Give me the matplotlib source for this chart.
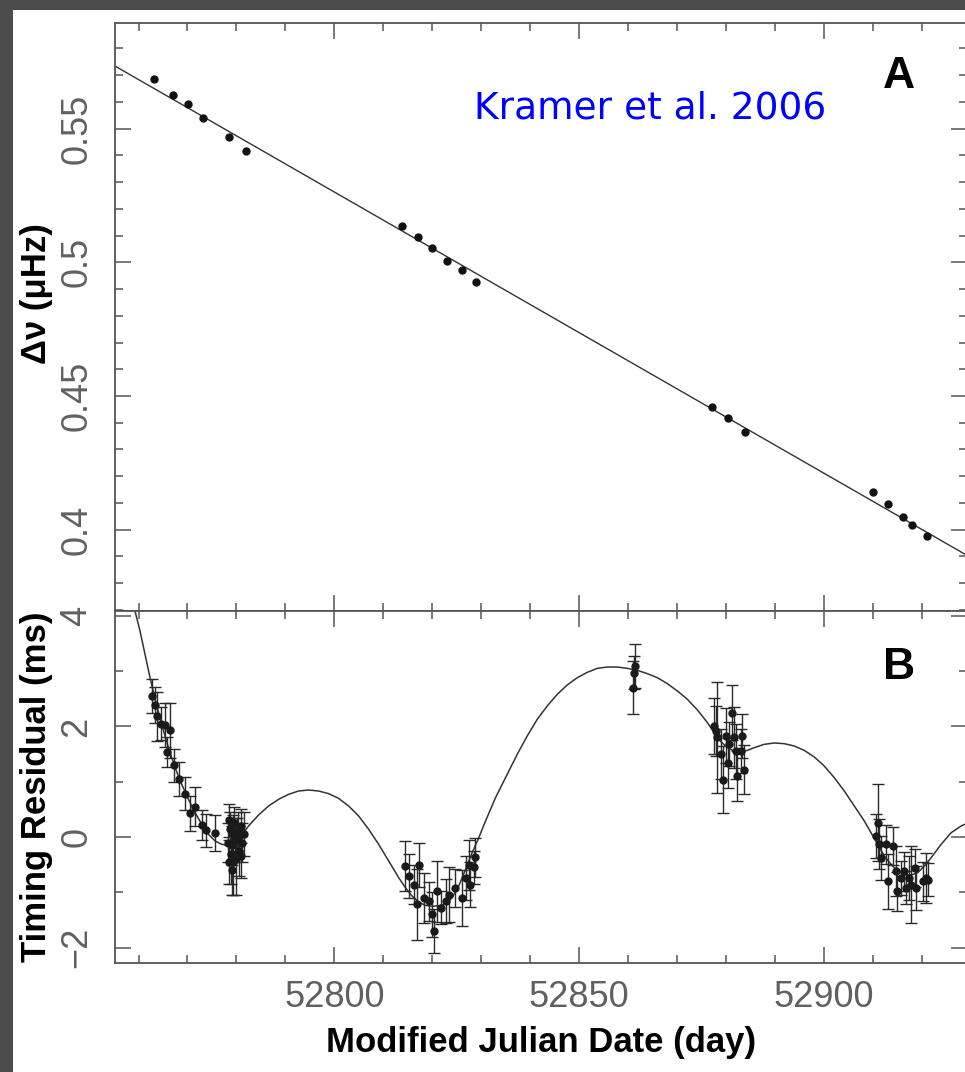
import matplotlib.pyplot as plt
from matplotlib.ticker import MultipleLocator, FuncFormatter
from matplotlib.patches import Rectangle

plt.rcParams['font.family'] = ['Liberation Sans', 'DejaVu Sans']

# --- panel A: frequency offset vs date ---
freq_day = [52763.1, 52767.0, 52770.1, 52773.1, 52778.5, 52782.0,
            52813.9, 52817.0, 52820.0, 52823.1, 52826.0, 52829.0,
            52877.1, 52880.4, 52883.8,
            52910.0, 52913.0, 52916.1, 52918.0, 52921.0]
freq_val = [0.5685, 0.5626, 0.5591, 0.5539, 0.5470, 0.5418,
            0.5136, 0.5095, 0.5054, 0.5005, 0.4971, 0.4926,
            0.4459, 0.4418, 0.4366,
            0.4141, 0.4097, 0.4049, 0.4018, 0.3977]
fit_day = [52755.2, 52929.2]
fit_val = [0.5734, 0.3904]

# --- panel B: timing residuals and model (model) ---
model_day = [52757.0, 52759.29, 52760.31, 52761.33, 52762.36, 52763.38, 52764.74,
             52766.11, 52767.47, 52768.83, 52770.20, 52771.56, 52772.92, 52774.29,
             52775.65, 52777.01, 52778.38, 52779.74, 52781.10, 52782.47, 52784.51,
             52786.56, 52788.60, 52790.65, 52792.69, 52794.74, 52796.78, 52798.83,
             52800.87, 52802.92, 52804.96, 52807.01, 52809.05, 52811.10, 52813.14,
             52814.51, 52815.87, 52817.23, 52818.59, 52819.96, 52821.32, 52822.69,
             52824.05, 52825.41, 52826.78, 52828.14, 52829.50, 52830.87, 52832.91,
             52835.29, 52837.34, 52839.38, 52841.43, 52843.47, 52845.52, 52847.56,
             52849.61, 52851.65, 52853.70, 52855.74, 52857.79, 52859.83, 52861.88,
             52863.92, 52865.97, 52868.01, 52870.06, 52872.10, 52874.15, 52876.19,
             52877.56, 52878.92, 52880.28, 52881.65, 52883.01, 52884.37, 52885.74,
             52887.78, 52889.83, 52891.87, 52893.92, 52895.96, 52898.01, 52900.05,
             52902.10, 52904.14, 52906.19, 52908.23, 52909.60, 52910.96, 52912.32,
             52913.69, 52915.05, 52916.41, 52917.78, 52919.14, 52920.50, 52921.87,
             52923.91, 52925.96, 52928.00, 52929.2]
model_val = [4.90, 4.087, 3.725, 3.303, 2.881, 2.490, 2.037,
             1.615, 1.254, 0.952, 0.681, 0.440, 0.229, 0.048,
             -0.072, -0.133, -0.145, -0.102, 0.036, 0.199, 0.398,
             0.561, 0.681, 0.772, 0.832, 0.850, 0.832, 0.784,
             0.699, 0.561, 0.380, 0.139, -0.133, -0.434, -0.735,
             -0.916, -1.067, -1.175, -1.236, -1.254, -1.242, -1.206,
             -1.097, -0.886, -0.585, -0.283, -0.012, 0.289, 0.711,
             1.133, 1.495, 1.826, 2.128, 2.369, 2.580, 2.749,
             2.881, 2.978, 3.050, 3.074, 3.074, 3.050, 3.014,
             2.954, 2.881, 2.773, 2.640, 2.490, 2.297, 2.068,
             1.887, 1.724, 1.615, 1.555, 1.543, 1.567, 1.615,
             1.676, 1.700, 1.688, 1.646, 1.567, 1.447, 1.284,
             1.073, 0.832, 0.561, 0.289, 0.078, -0.133, -0.344,
             -0.494, -0.615, -0.675, -0.687, -0.645, -0.524, -0.374,
             -0.133, 0.078, 0.199, 0.250]

res_day = [52762.8, 52763.4, 52763.7, 52764.5, 52765.4, 52765.8, 52766.4,
           52767.2, 52768.2, 52769.5, 52770.5, 52771.6, 52772.9, 52773.8, 52775.6,
           52778.2, 52778.4, 52778.5, 52778.6, 52778.8, 52779.0, 52779.1, 52779.2,
           52779.4, 52779.6, 52779.8, 52780.0, 52780.2, 52780.3, 52780.6, 52780.9,
           52781.0, 52781.2, 52781.5,
           52814.4, 52815.2, 52816.2, 52816.9, 52817.2, 52818.3, 52819.3,
           52820.0, 52820.3, 52821.0, 52821.7, 52822.7, 52823.4, 52824.7,
           52826.1, 52826.8, 52827.5, 52827.8, 52828.5, 52828.8,
           52860.9, 52861.1, 52861.3,
           52877.6, 52877.9, 52878.2, 52878.9, 52879.3, 52879.9, 52880.3,
           52880.6, 52881.3, 52881.6, 52882.0, 52882.3, 52883.0, 52883.3, 52883.7,
           52910.6, 52911.0, 52911.3, 52911.6, 52912.7, 52913.0, 52914.0,
           52914.7, 52915.0, 52915.7, 52916.4, 52916.7, 52917.4, 52917.8,
           52918.5, 52918.8, 52920.2, 52920.8, 52921.2]
res_val = [2.55, 2.39, 2.18, 2.05, 2.03, 1.54, 1.93,
           1.30, 1.05, 0.78, 0.43, 0.55, 0.22, 0.12, 0.07,
           -0.10, -0.45, 0.30, 0.15, -0.30, -0.60, -0.15, 0.05,
           -0.45, 0.25, -0.05, -0.40, 0.00, 0.10, -0.25, 0.20,
           -0.35, -0.10, 0.05,
           -0.52, -0.71, -0.86, -1.22, -0.50, -1.10, -1.16,
           -1.40, -1.70, -0.98, -1.28, -1.16, -1.04, -0.92,
           -1.10, -0.74, -0.50, -0.86, -0.55, -0.37,
           2.70, 2.97, 3.09,
           2.01, 1.92, 1.80, 1.50, 1.04, 1.83, 1.34,
           1.68, 2.25, 1.80, 1.55, 1.10, 1.55, 1.83, 1.22,
           0.02, 0.26, -0.13, -0.38, -0.13, -0.80, -0.16,
           -0.62, -0.98, -0.74, -0.62, -0.92, -0.74, -0.86,
           -0.56, -0.92, -0.80, -0.74, -0.77]
res_err = [0.30, 0.32, 0.45, 0.30, 0.40, 0.27, 0.50,
           0.30, 0.30, 0.30, 0.32, 0.35, 0.27, 0.30, 0.32,
           0.35, 0.40, 0.30, 0.30, 0.55, 0.45, 0.35, 0.35,
           0.60, 0.30, 0.40, 0.65, 0.35, 0.35, 0.45, 0.30,
           0.40, 0.35, 0.40,
           0.45, 0.40, 0.35, 0.65, 0.40, 0.45, 0.35,
           0.40, 0.40, 0.55, 0.30, 0.40, 0.50, 0.35,
           0.50, 0.40, 0.45, 0.40, 0.30, 0.35,
           0.48, 0.30, 0.40,
           0.50, 0.45, 1.00, 0.45, 0.60, 0.50, 0.45,
           0.40, 0.50, 0.55, 0.50, 0.45, 0.40, 0.40, 0.45,
           0.40, 0.70, 0.45, 0.40, 0.35, 0.50, 0.35,
           0.45, 0.35, 0.30, 0.35, 0.30, 0.40, 0.70,
           0.35, 0.40, 0.35, 0.45, 0.30]

W, H = 965, 1072
fig = plt.figure(figsize=(W / 100, H / 100), dpi=100, facecolor='#4b4b4b')
# white page with the dark frame only on left and top
fig.patches.append(Rectangle((13 / W, 0), 1, 1 - 10 / H, transform=fig.transFigure,
                             facecolor='white', edgecolor='none', zorder=-5))

left, width = 115 / W, 852 / W
ax_a = fig.add_axes([left, 1 - 611 / H, width, 588 / H])
ax_b = fig.add_axes([left, 1 - 963 / H, width, 352 / H])

axis_col = '#555555'
label_col = '#606060'

# panel A
ax_a.plot(fit_day, fit_val, color='#333333', lw=1.0)
ax_a.plot(freq_day, freq_val, 'o', color='#111111', ms=5)
ax_a.set_xlim(52755.2, 52929.2)
ax_a.set_ylim(0.3696, 0.5895)
ax_a.yaxis.set_major_locator(MultipleLocator(0.05))
ax_a.yaxis.set_minor_locator(MultipleLocator(0.01))
ax_a.yaxis.set_major_formatter(FuncFormatter(lambda v, p: '{:g}'.format(round(v, 3))))
ax_a.set_ylabel('Δν (μHz)', fontsize=25, fontweight='bold')
ax_a.yaxis.set_label_coords(-0.073, 0.54)
ax_a.text(0.920, 0.8895, 'A', transform=ax_a.transAxes, fontsize=32,
          fontweight='bold', ha='center', va='baseline')
ax_a.text(0.6275, 0.8384, 'Kramer et al. 2006', transform=ax_a.transAxes,
          fontsize=27, color='#0000ff', family='DejaVu Sans',
          ha='center', va='baseline')

# panel B
ax_b.plot(model_day, model_val, color='#333333', lw=1.1)
ax_b.errorbar(res_day, res_val, yerr=res_err, fmt='o', color='#1a1a1a', ms=5,
              ecolor='#2a2a2a', elinewidth=1.0, capsize=4, capthick=1.0)
ax_b.set_xlim(52755.2, 52929.2)
ax_b.set_ylim(-2.278, 4.087)
ax_b.yaxis.set_major_locator(MultipleLocator(2))
ax_b.yaxis.set_minor_locator(MultipleLocator(1))
ax_b.set_ylabel('Timing Residual (ms)', fontsize=25, fontweight='bold')
ax_b.yaxis.set_label_coords(-0.073, 0.5)
ax_b.set_xlabel('Modified Julian Date (day)', fontsize=25, fontweight='bold', labelpad=8)
ax_b.text(0.920, 0.8068, 'B', transform=ax_b.transAxes, fontsize=32,
          fontweight='bold', ha='center', va='baseline')

for ax in (ax_a, ax_b):
    ax.xaxis.set_major_locator(MultipleLocator(50))
    ax.xaxis.set_minor_locator(MultipleLocator(10))
    ax.ticklabel_format(axis='x', useOffset=False)
    ax.tick_params(which='both', direction='in', top=True, right=True,
                   color=axis_col, width=1.1, labelsize=26, labelcolor=label_col)
    ax.tick_params(which='major', length=11.5)
    ax.tick_params(which='minor', length=6)
    ax.tick_params(axis='y', labelrotation=90, pad=15)
    ax.tick_params(axis='x', pad=12)
    for s in ax.spines.values():
        s.set_color(axis_col)
        s.set_linewidth(1.3)
    for lbl in ax.get_yticklabels():
        lbl.set_va('center')

ax_a.tick_params(labelbottom=False)

fig.savefig('out.png', dpi=100, facecolor=fig.get_facecolor())
